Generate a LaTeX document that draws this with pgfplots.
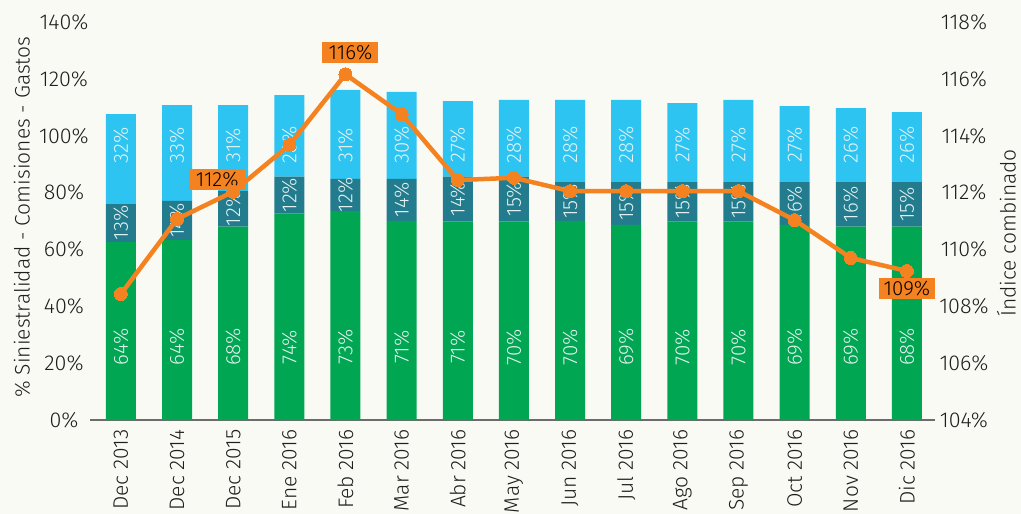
\documentclass[border=0pt]{standalone}
\usepackage{pgfplots}
\usepackage{pgfplotstable}
\pgfplotsset{compat=1.18}
\usepackage{fontspec}
\setmainfont{Fira Sans}[UprightFont={* Light}]
\definecolor{cgreen}{RGB}{0,166,81}
\definecolor{cteal}{RGB}{35,124,142}
\definecolor{clight}{RGB}{46,196,242}
\definecolor{corange}{RGB}{245,130,32}
\definecolor{cbg}{RGB}{250,250,245}
\definecolor{ctext}{RGB}{30,30,30}
\definecolor{clab}{RGB}{228,242,242}

\pgfplotstableread{
x g t l gl tl ll
0 62.6 13.5 31.5 64 13 32
1 63.3 13.8 33.7 64 14 33
2 68.0 12.5 30.3 68 12 31
3 72.6 13.0 28.7 74 12 28
4 73.5 11.3 31.3 73 12 31
5 70.0 14.8 30.6 71 14 30
6 69.8 15.8 26.6 71 14 27
7 69.8 15.8 27.0 70 15 28
8 70.0 13.7 28.9 70 15 28
9 68.6 15.1 28.9 69 15 28
10 69.8 13.9 27.8 70 15 27
11 69.8 13.9 28.9 70 15 27
12 68.6 15.1 26.7 69 16 27
13 68.0 15.7 26.0 69 16 26
14 68.0 15.7 24.6 68 15 26
}\bars

\pgfplotstableread{
x y
0 108.43
1 111.07
2 112.03
3 113.67
4 116.16
5 114.76
6 112.44
7 112.52
8 112.05
9 112.05
10 112.05
11 112.05
12 111.03
13 109.70
14 109.24
}\combined

\pgfplotsset{
  barlab/.style={draw=none, mark=none, forget plot,
    nodes near coords={\pgfplotspointmeta\%},
    point meta=explicit symbolic,
    every node near coord/.append style={rotate=90, anchor=center, text=clab, font=\fontsize{20.5bp}{22bp}\selectfont}},
  boxlab/.style={draw=none, mark=none, forget plot,
    nodes near coords={\pgfplotspointmeta\%},
    point meta=explicit symbolic,
    every node near coord/.append style={xshift=#1, anchor=center, fill=corange, text=black, inner xsep=5bp, inner ysep=0bp, minimum height=21bp, minimum width=56bp, font=\fontsize{20.5bp}{22bp}\selectfont}},
  common/.style={at={(0,0)}, anchor=south west,
    scale only axis, width=845bp, height=398bp,
    xmin=-0.55, xmax=14.5, clip=false},
}

\begin{document}
\begin{tikzpicture}
\fill[cbg] (-90bp,-94bp) rectangle (931bp,420bp);
\begin{axis}[
  common,
  ybar stacked, bar width=30bp,
  ymin=0, ymax=140,
  axis x line*=bottom, axis y line*=left,
  x axis line style={draw=gray!85!black, line width=1.2bp, -},
  y axis line style={draw=none},
  tick style={draw=none},
  xtick={0,...,14},
  xticklabels={Dec 2013,Dec 2014,Dec 2015,Ene 2016,Feb 2016,Mar 2016,Abr 2016,May 2016,Jun 2016,Jul 2016,Ago 2016,Sep 2016,Oct 2016,Nov 2016,Dic 2016},
  ytick={0,20,...,140},
  yticklabels={0\%,20\%,40\%,60\%,80\%,100\%,120\%,140\%},
  every tick label/.append style={font=\fontsize{21.5bp}{24bp}\selectfont, text=ctext},
  xticklabel style={yshift=-6bp, rotate=90, anchor=east, font=\fontsize{21bp}{24bp}\selectfont},
  yticklabel style={anchor=center, xshift=-26bp},
  ylabel={\% Siniestralidad - Comisiones - Gastos},
  ylabel style={at={(axis description cs:-0.0805,0.51)}, anchor=center, font=\fontsize{21bp}{24bp}\selectfont, text=ctext},
]
\addplot[fill=cgreen, draw=none] table[x=x, y=g] {\bars};
\addplot[fill=cteal, draw=none] table[x=x, y=t] {\bars};
\addplot[fill=clight, draw=none] table[x=x, y=l] {\bars};
\end{axis}
\begin{axis}[
  common,
  ymin=0, ymax=140,
  axis lines=none, xtick=\empty, ytick=\empty,
]
\addplot[barlab] table[x=x, y expr=25.7, meta=gl] {\bars};
\addplot[barlab] table[x=x, y expr=\thisrow{g}+0.5*\thisrow{t}, meta=tl] {\bars};
\addplot[barlab] table[x=x, y expr=96.7, meta=ll] {\bars};
\end{axis}
\begin{axis}[
  common,
  ymin=104, ymax=118,
  axis x line=none, axis y line*=right,
  y axis line style={draw=none},
  tick style={draw=none},
  xtick=\empty,
  ytick={104,106,...,118},
  yticklabels={104\%,106\%,108\%,110\%,112\%,114\%,116\%,118\%},
  every tick label/.append style={font=\fontsize{21.5bp}{24bp}\selectfont, text=ctext},
  yticklabel style={anchor=center, xshift=29bp},
  ylabel={Índice combinado},
  ylabel style={at={(axis description cs:1.0845,0.47)}, anchor=center, font=\fontsize{21bp}{24bp}\selectfont, text=ctext},
]
\addplot[boxlab=-16bp, every node near coord/.append style={yshift=12bp}] coordinates {(2,112.03) [112]};
\addplot[boxlab=5bp, every node near coord/.append style={yshift=22bp}] coordinates {(4,116.16) [116]};
\addplot[boxlab=0bp, every node near coord/.append style={yshift=-17.5bp}] coordinates {(14,109.24) [109]};
\addplot[corange, line width=4.5bp, mark=*, mark size=6.5bp, mark options={fill=corange, draw=corange, line width=0pt}] table[x=x, y=y] {\combined};
\end{axis}
\pgfresetboundingbox
\path[use as bounding box] (-90bp,-94bp) rectangle (931bp,420bp);
\end{tikzpicture}
\end{document}
